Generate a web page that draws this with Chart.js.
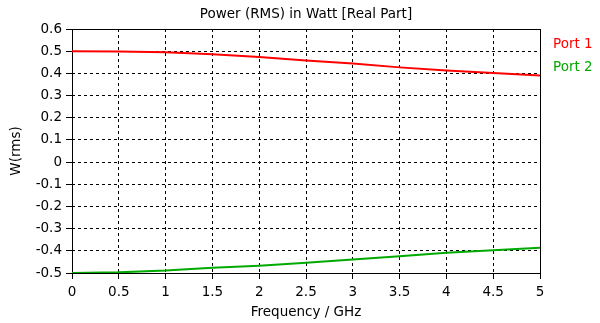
<!DOCTYPE html>
<html>
<head>
<meta charset="utf-8">
<script src="https://cdn.jsdelivr.net/npm/chart.js@4.4.1/dist/chart.umd.min.js"></script>
<style>
html, body { margin: 0; padding: 0; background: #fff; }
canvas { display: block; }
</style>
</head>
<body>
<canvas id="graphiquePuissance" width="600" height="323"></canvas>
<script>
// Fréquences (GHz)
const frequences = [0, 0.5, 1, 1.5, 2, 2.5, 3, 3.5, 4, 4.5, 5];

// Puissance RMS (partie réelle)
const port1 = [0.5, 0.499, 0.495, 0.486, 0.474, 0.458, 0.445, 0.427, 0.413, 0.402, 0.39];
const port2 = [-0.5, -0.497, -0.489, -0.476, -0.467, -0.454, -0.439, -0.425, -0.409, -0.397, -0.386];

const nomsSeries = ['Port 1', 'Port 2'];
const couleurs = ['rgb(255, 0, 0)', 'rgb(0, 170, 0)'];
const titre = 'Power (RMS) in Watt [Real Part]';

// Graduations
const xMin = 0, xMax = 5, xPas = 0.5;
const yMin = -0.5, yMax = 0.6, yPas = 0.1;

const police = 'DejaVu Sans';
const taille = 13.5;
Chart.defaults.color = '#000';
Chart.defaults.font.family = police;
Chart.defaults.font.size = taille;

const points = serie => frequences.map((f, i) => ({ x: f, y: serie[i] }));
const formatNombre = v => String(+v.toFixed(2));

// cadre noir autour de la zone de tracé
const cadre = {
  id: 'cadre',
  beforeDatasetsDraw(chart) {
    const { ctx, chartArea: a } = chart;
    ctx.save();
    ctx.strokeStyle = '#000';
    ctx.lineWidth = 1;
    ctx.setLineDash([]);
    ctx.strokeRect(Math.round(a.left) + 0.5, Math.round(a.top) + 0.5,
      Math.round(a.right - a.left), Math.round(a.bottom - a.top));
    ctx.restore();
  }
};

// titre centré sur la zone de tracé + légende à droite (texte coloré)
const textes = {
  id: 'textes',
  afterDraw(chart) {
    const { ctx, chartArea: a } = chart;
    ctx.save();
    ctx.font = taille + 'px "' + police + '"';
    ctx.textBaseline = 'middle';
    ctx.textAlign = 'center';
    ctx.fillStyle = '#000';
    ctx.fillText(titre, (a.left + a.right) / 2, 14);
    ctx.textAlign = 'left';
    nomsSeries.forEach((nom, i) => {
      ctx.fillStyle = couleurs[i];
      ctx.fillText(nom, a.right + 13, a.top + 15 + i * 23);
    });
    ctx.restore();
  }
};

const data = {
  datasets: [
    {
      label: nomsSeries[0],
      data: points(port1),
      borderColor: couleurs[0],
      backgroundColor: couleurs[0],
      borderWidth: 2,
      pointRadius: 0,
      tension: 0
    },
    {
      label: nomsSeries[1],
      data: points(port2),
      borderColor: couleurs[1],
      backgroundColor: couleurs[1],
      borderWidth: 2,
      pointRadius: 0,
      tension: 0
    }
  ]
};

const config = {
  type: 'line',
  data: data,
  options: {
    responsive: false,
    animation: false,
    layout: { padding: { right: 60, left: 0, top: 29, bottom: 0 } },
    scales: {
      x: {
        type: 'linear',
        min: xMin,
        max: xMax,
        afterFit: s => { s.height = 50; },
        ticks: { stepSize: xPas, padding: 5, maxRotation: 0, autoSkip: false, callback: formatNombre },
        grid: { color: '#000', lineWidth: 1, tickLength: 6, tickColor: '#000', tickBorderDash: [] },
        border: { display: false, dash: [3, 3] },
        title: { display: true, text: 'Frequency / GHz', padding: { top: 0, bottom: 2 } }
      },
      y: {
        min: yMin,
        max: yMax,
        afterFit: s => { s.width = 72; },
        ticks: { stepSize: yPas, padding: 4, autoSkip: false, callback: formatNombre },
        grid: { color: '#000', lineWidth: 1, tickLength: 6, tickColor: '#000', tickBorderDash: [] },
        border: { display: false, dash: [3, 3] },
        title: { display: true, text: 'W(rms)', padding: { top: 8, bottom: 0 } }
      }
    },
    plugins: {
      legend: { display: false },
      tooltip: { enabled: false },
      title: { display: false }
    }
  },
  plugins: [cadre, textes]
};

const monGraphique = new Chart(document.getElementById('graphiquePuissance'), config);
</script>
</body>
</html>
